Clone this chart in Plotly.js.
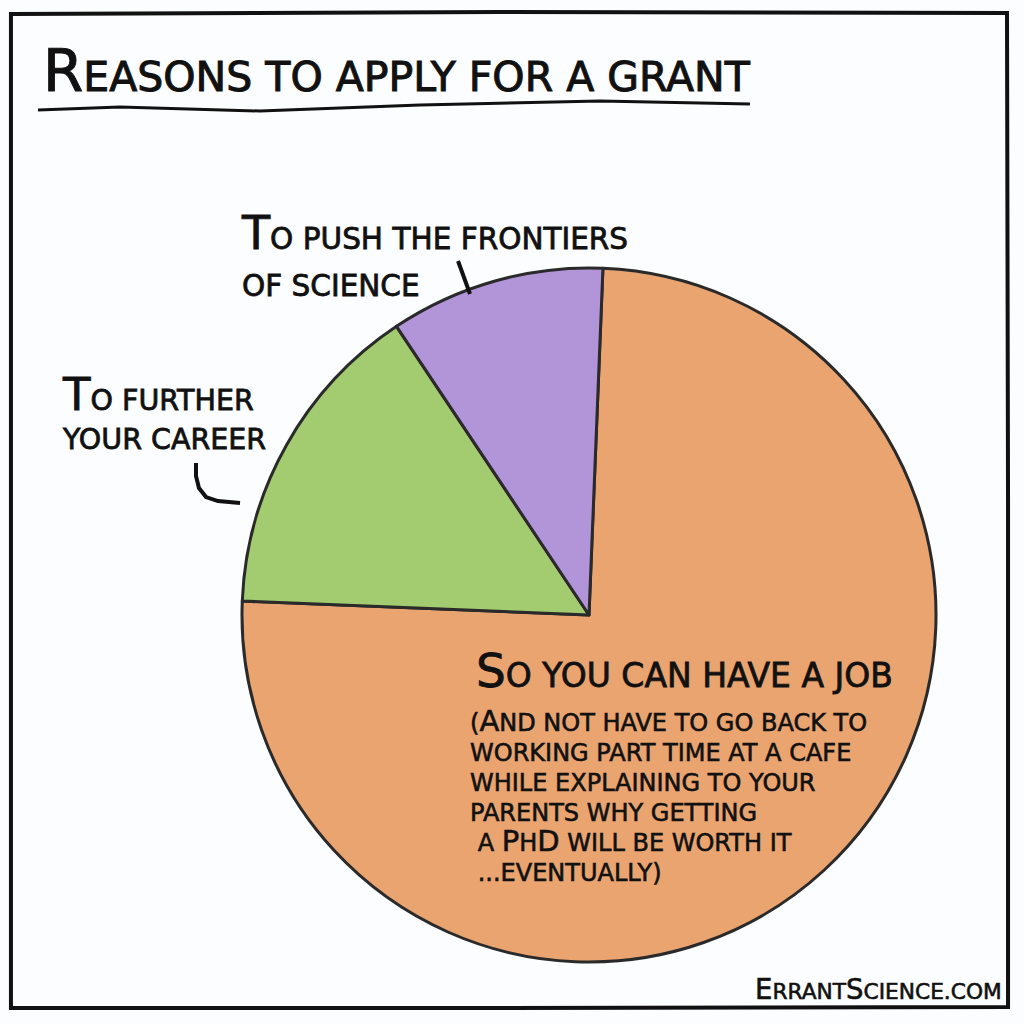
<!DOCTYPE html>
<html>
<head>
<meta charset="utf-8">
<script src="https://cdn.plot.ly/plotly-3.0.1.min.js"></script>
<style>
  html, body { margin: 0; padding: 0; background: #fcfdfe; }
  #chart { width: 1024px; height: 1024px; }
</style>
</head>
<body>
<div id="chart"></div>
<script>
// ---- data ----
const categories = ["So you can have a job", "To further your career", "To push the frontiers of science"];
const shares = [75, 15, 10];
const sliceColors = ["#e9a470", "#a3cb6f", "#b195d8"];
const titleText = ["Reasons to apply for a grant"];
const labelScience = ["To push the frontiers", "of science"];
const labelCareer = ["To further", "your career"];
const labelJob = ["So you can have a job"];
const labelJobNote = ["(And not have to go back to", "working part time at a cafe", "while explaining to your", "parents why getting", " a PhD will be worth it", " ...eventually)"];
const footerText = ["ErrantScience.com"];

// ---- helpers ----
const FONT = "DejaVu Sans, Open Sans, sans-serif";
function sc(str, big, small, sw) {
  let out = "";
  const ex = `;stroke:#111;stroke-width:${sw}px`;
  for (const ch of str) {
    if (ch !== ch.toLowerCase()) out += `<span style="font-size:${big}px${ex}">${ch}</span>`;
    else out += `<span style="font-size:${small}px${ex}">${ch.toUpperCase()}</span>`;
  }
  return out;
}
const W = 1024, H = 1024;
const px = x => x / W;
const py = y => 1 - y / H;
function pathPx(pts) {
  return pts.map((p, i) => (i === 0 ? "M" : "L") + px(p[0]).toFixed(4) + "," + py(p[1]).toFixed(4)).join(" ");
}
function ann(lines, x, y, base, big, small, sw) {
  return { text: lines.map(t => sc(t, big, small, sw)).join("<br>"),
           x: px(x), y: py(y), xref: "paper", yref: "paper",
           xanchor: "left", yanchor: "bottom", showarrow: false, align: "left",
           font: { family: FONT, size: base, color: "#111" } };
}

// ---- pie geometry ----
const cx = 589, cy = 615, r = 347;

const trace = {
  type: "pie",
  values: shares,
  labels: categories,
  sort: false,
  direction: "clockwise",
  rotation: 2.3,
  textinfo: "none",
  hoverinfo: "label+percent",
  marker: { colors: sliceColors, line: { color: "#2a2a2a", width: 3 } },
  domain: { x: [px(cx - r), px(cx + r)], y: [py(cy + r), py(cy - r)] },
  showlegend: false
};

const annotations = [
  ann(titleText, 41, 107, 40, 58, 41, 1.0),
  ann(labelScience, 239, 305, 36, 46, 29.5, 0.8),
  ann(labelCareer, 60, 458, 30, 45, 28.5, 0.8),
  ann(labelJob, 474, 700, 33, 47, 33, 0.8),
  ann(labelJobNote, 468, 889, 23, 29, 24, 0.6),
  ann(footerText, 753, 1007, 22, 27.5, 21.7, 0.6)
];

const shapes = [
  // frame
  { type: "path", xref: "paper", yref: "paper",
    path: pathPx([[11, 14], [500, 12], [1007, 13], [1008, 500], [1008, 1007], [500, 1008], [11, 1008]]) + " Z",
    line: { color: "#111", width: 4 }, fillcolor: "rgba(0,0,0,0)" },
  // title underline
  { type: "path", xref: "paper", yref: "paper",
    path: pathPx([[38, 110], [120, 107], [260, 111], [420, 105], [600, 101], [750, 104]]),
    line: { color: "#111", width: 3 } },
  // leader line for "science"
  { type: "path", xref: "paper", yref: "paper",
    path: pathPx([[458, 261], [470, 294]]),
    line: { color: "#111", width: 4 } },
  // hook for "career"
  { type: "path", xref: "paper", yref: "paper",
    path: pathPx([[196, 463], [196, 476], [199, 488], [206, 497], [218, 501], [240, 503]]),
    line: { color: "#111", width: 4 } }
];

const layout = {
  width: W, height: H,
  margin: { l: 0, r: 0, t: 0, b: 0 },
  paper_bgcolor: "#fcfdfe",
  plot_bgcolor: "#fcfdfe",
  showlegend: false,
  annotations: annotations,
  shapes: shapes
};

Plotly.newPlot("chart", [trace], layout, { displayModeBar: false, staticPlot: true });
</script>
</body>
</html>
